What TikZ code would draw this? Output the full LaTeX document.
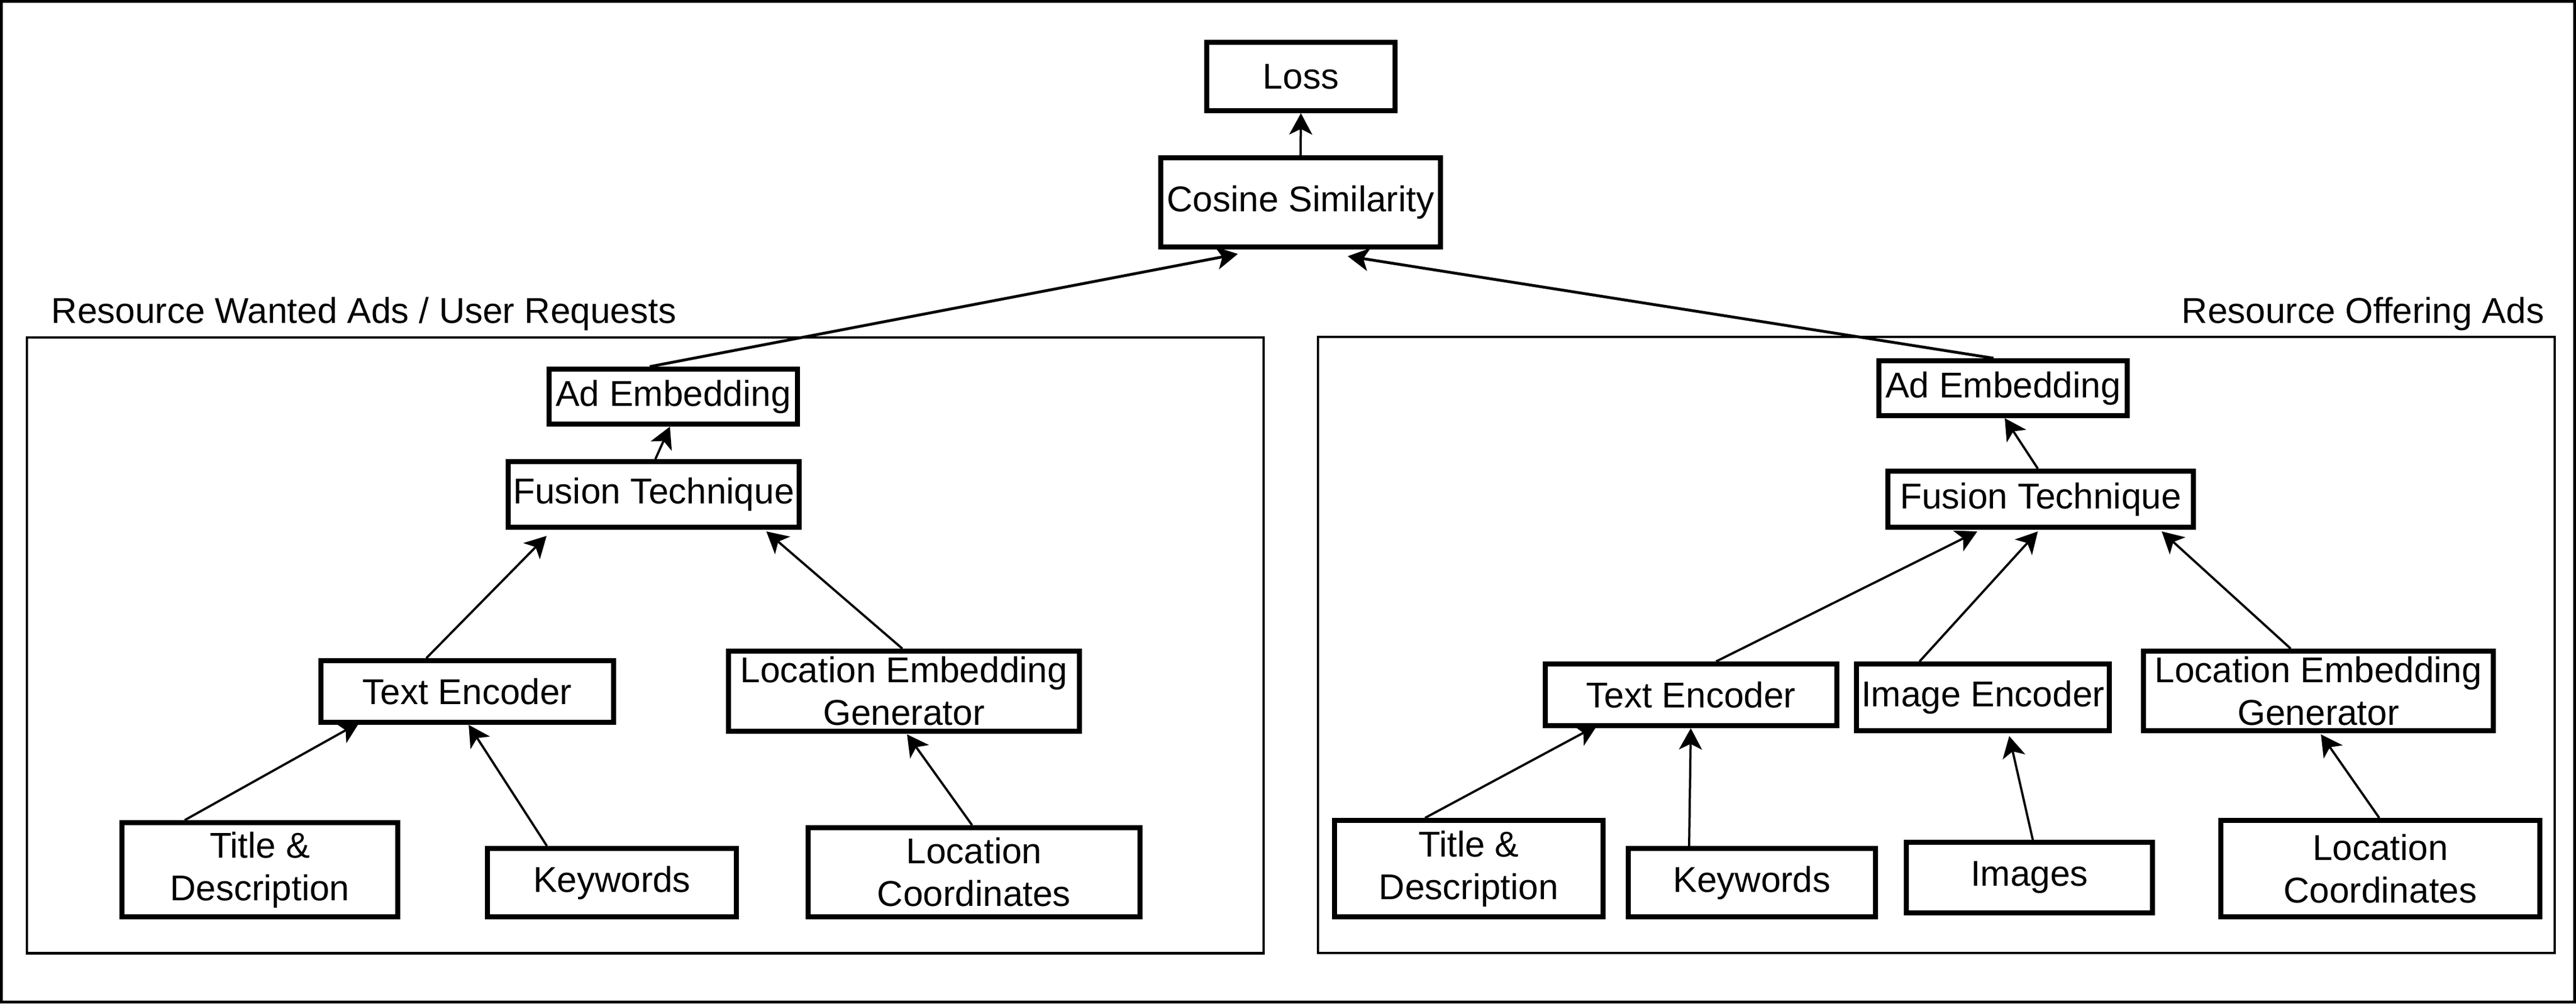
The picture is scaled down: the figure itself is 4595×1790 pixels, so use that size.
\documentclass[tikz,border=0pt]{standalone}
\usepackage{fontspec}
\setmainfont{Liberation Sans}
\usetikzlibrary{arrows.meta,calc}
\begin{document}
\begin{tikzpicture}[x=0.25pt,y=-0.25pt,
  box/.style={draw,line width=2.25pt,inner sep=0pt,align=center,fill=white,font=\fontsize{16}{19}\selectfont},
  wh/.style 2 args={minimum width=#1*0.25pt,minimum height=#2*0.25pt},
  group/.style={draw,line width=1.125pt},
  captext/.style={inner sep=0pt,font=\fontsize{16}{19}\selectfont},
  arr/.style={line width=1pt,-{Stealth[length=9.5pt,width=10.25pt,inset=2.5pt]}},
  longarr/.style={arr,line width=1.25pt}]
\useasboundingbox (0,0) rectangle (4595,1790);
\draw[line width=1.25pt] (2.5,2.5) rectangle (4592.5,1787.5);

% groups
\draw[group] (48,602) rectangle (2254,1700.5);
\draw[group] (2351,601) rectangle (4557,1700);
\node[captext,anchor=base west] (lcap) at (91,576) {Resource Wanted Ads / User Requests};
\node[captext,anchor=base east] (rcap) at (4539,576) {Resource Offering Ads};

% top
\node[box,wh={336}{122}] (loss) at (2320.5,136.5) {Loss};
\node[box,wh={499}{159}] (cos) at (2320,361) {Cosine Similarity};

% left
\node[box,wh={443}{98}] (lad) at (1201,707.5) {Ad Embedding};
\node[box,wh={519}{117}] (lfus) at (1166,882) {Fusion Technique};
\node[box,wh={522}{110}] (lte) at (833.5,1233.5) {Text Encoder};
\node[box,wh={626}{143}] (lleg) at (1612.5,1233) {Location Embedding\\Generator};
\node[box,wh={492}{168}] (ltit) at (463.5,1551.5) {Title \&\\Description};
\node[box,wh={444}{122}] (lkey) at (1091.5,1574.5) {Keywords};
\node[box,wh={592}{159}] (lloc) at (1737.5,1556) {Location\\Coordinates};

% right
\node[box,wh={443}{98}] (rad) at (3573,692.5) {Ad Embedding};
\node[box,wh={545}{100}] (rfus) at (3640,890.5) {Fusion Technique};
\node[box,wh={520}{110}] (rte) at (3016.5,1239.5) {Text Encoder};
\node[box,wh={451}{119}] (rie) at (3537,1244) {Image Encoder};
\node[box,wh={624}{142}] (rleg) at (4135.5,1232.5) {Location Embedding\\Generator};
\node[box,wh={479}{172}] (rtit) at (2620,1549.5) {Title \&\\Description};
\node[box,wh={441}{122}] (rkey) at (3125,1574.5) {Keywords};
\node[box,wh={439}{126}] (rimg) at (3620,1565.5) {Images};
\node[box,wh={569}{172}] (rloc) at (4246,1549.5) {Location\\Coordinates};

% arrows
\draw[arr] (cos.north) -- (loss.south);
\draw[longarr] ($(lad.north)+(-42,0)$) -- ($(cos.south)+(-112,8)$);
\draw[longarr] ($(rad.north)+(-17,0)$) -- ($(cos.south)+(84,12)$);

\draw[arr] ($(lfus.north)+(3,0)$) -- ($(lad.south)+(-6,0)$);
\draw[arr] ($(lte.north)+(-73,0)$) -- ($(lfus.south)+(-191,11)$);
\draw[arr] ($(lleg.north)+(-3,0)$) -- ($(lfus.south)+(201,3)$);
\draw[arr] ($(ltit.north)+(-134,0)$) -- ($(lte.south)+(-192.5,-4)$);
\draw[arr] ($(lkey.north)+(-116,0)$) -- ($(lte.south)+(2.5,0)$);
\draw[arr] ($(lloc.north)+(-3.5,0)$) -- ($(lleg.south)+(5.5,1)$);

\draw[arr] ($(rfus.north)+(-5,0)$) -- ($(rad.south)+(3,0)$);
\draw[arr] ($(rte.north)+(44.5,0)$) -- ($(rfus.south)+(-113,3)$);
\draw[arr] ($(rie.north)+(-113,0)$) -- ($(rfus.south)+(-5,3)$);
\draw[arr] ($(rleg.north)+(-49.5,0)$) -- ($(rfus.south)+(216,3)$);
\draw[arr] ($(rtit.north)+(-78,0)$) -- ($(rte.south)+(-167.5,-5)$);
\draw[arr] ($(rkey.north)+(-112,0)$) -- ($(rte.south)+(-0.5,0)$);
\draw[arr] ($(rimg.north)+(6,0)$) -- ($(rie.south)+(47,5)$);
\draw[arr] ($(rloc.north)+(-2,0)$) -- ($(rleg.south)+(4.5,2)$);
\end{tikzpicture}
\end{document}
